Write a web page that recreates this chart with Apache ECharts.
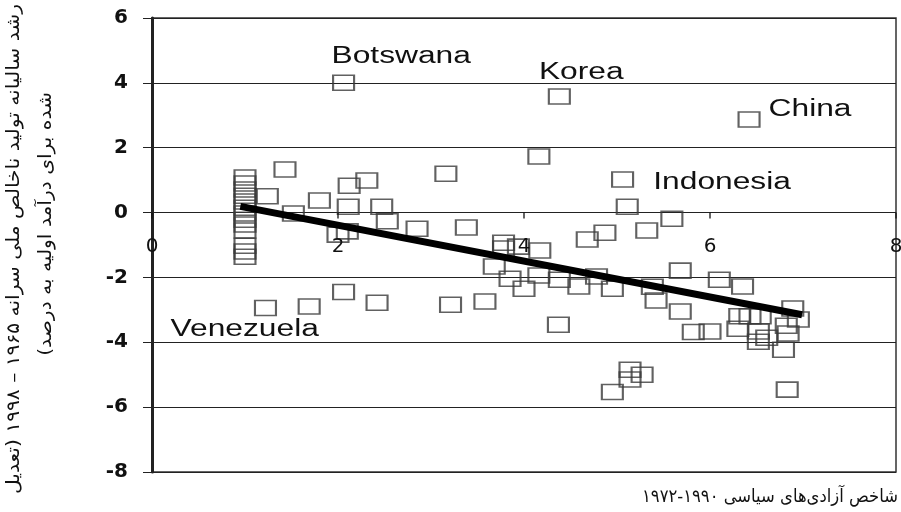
<!DOCTYPE html>
<html><head><meta charset="utf-8">
<script src="https://cdn.jsdelivr.net/npm/echarts@6/dist/echarts.min.js"></script>
<style>html,body{margin:0;padding:0;background:#fff}#c{width:901px;height:512px}</style>
</head><body><div id="c"></div>
<script>
// axis ticks
const xTicks = [0, 2, 4, 6, 8];
const yTicks = [-8, -6, -4, -2, 0, 2, 4, 6];

// countries: political freedom index (x) vs annual GDP per capita growth (y)
const ptX = [1.0,1.0,1.0,1.0,1.0,1.0,1.0,1.0,1.0,1.0,1.0,1.0,1.0,
  1.24,1.43,1.52,1.8,2.12,2.31,2.11,2.47,2.53,2.0,2.1,2.06,1.22,1.69,2.06,2.42,
  2.85,3.38,3.16,4.16,4.38,5.06,5.11,3.78,3.78,3.94,4.17,3.68,3.85,4.0,4.16,4.38,
  4.59,4.78,4.95,4.68,4.87,5.32,5.59,3.21,3.58,4.37,5.38,5.42,5.68,5.68,5.82,6.0,
  6.1,6.35,6.42,6.3,6.32,6.43,6.54,6.52,6.61,6.52,6.82,6.84,6.79,6.89,6.95,6.83,
  4.95,5.14,5.14,5.27];
const ptY = [1.08,0.9,0.71,0.52,0.34,0.15,-0.03,-0.22,-0.37,-0.55,-1.02,-1.2,-1.36,
  0.5,1.33,-0.03,0.37,0.83,0.99,0.18,0.18,-0.27,-0.68,-0.58,4.0,-2.94,-2.9,-2.45,-2.78,
  -0.5,-0.46,1.2,1.73,3.58,1.02,0.18,-0.93,-1.11,-1.05,-1.17,-1.66,-2.04,-2.35,-1.94,-2.07,
  -2.28,-1.97,-2.35,-0.83,-0.62,-0.55,-0.19,-2.84,-2.74,-3.46,-2.29,-2.71,-1.79,-3.05,-3.68,-3.67,
  -2.07,-2.28,2.87,-3.58,-3.2,-3.2,-3.2,-3.67,-3.86,-3.98,-3.49,-3.73,-4.23,-2.96,-3.3,-5.46,
  -5.53,-4.85,-5.15,-5.0];

// fitted regression line end points
const fitX = [0.95, 6.99];
const fitY = [0.19, -3.15];

// annotations
const labelNames = ['Botswana', 'Korea', 'China', 'Indonesia', 'Venezuela'];
const labelX = [1.93, 4.16, 6.63, 5.39, 0.2];
const labelY = [4.8, 4.32, 3.16, 0.93, -3.6];

const yTitle1 = 'رشد سالیانه تولید ناخالص ملی سرانه ۱۹۶۵ – ۱۹۹۸ (تعدیل';
const yTitle2 = 'شده برای درآمد اولیه به درصد)\u200F';
const xTitle = 'شاخص آزادی‌های سیاسی ۱۹۹۰-۱۹۷۲';

// text measuring for title stretch
const mctx = document.createElement('canvas').getContext('2d');
const titleFont = '18px "DejaVu Sans"';
mctx.font = titleFont;
const yScale = 490 / mctx.measureText(yTitle1).width;
const xScale = 256 / mctx.measureText(xTitle).width;

const chart = echarts.init(document.getElementById('c'), null, {renderer: 'canvas'});
chart.setOption({
  animation: false,
  backgroundColor: '#fff',
  grid: {left: 152, right: 5, top: 18, bottom: 40, show: true, borderColor: '#333', borderWidth: 1.5, backgroundColor: '#fff'},
  xAxis: {
    type: 'value', min: xTicks[0], max: xTicks[xTicks.length - 1], interval: xTicks[1] - xTicks[0],
    axisLine: {show: false},
    axisTick: {show: false},
    splitLine: {show: false},
    axisLabel: {show: false}
  },
  yAxis: {
    type: 'value', min: yTicks[0], max: yTicks[yTicks.length - 1], interval: yTicks[1] - yTicks[0],
    axisLine: {show: true, onZero: false, lineStyle: {color: '#222', width: 3}},
    axisTick: {show: true, length: 9, lineStyle: {color: '#222', width: 1}},
    splitLine: {show: true, lineStyle: {color: '#222', width: 1}},
    axisLabel: {margin: 24, fontFamily: 'DejaVu Sans', fontWeight: 'bold', fontSize: 20, color: '#111'}
  },
  graphic: [
    {type: 'text', x: 14, y: 4, rotation: Math.PI / 2, scaleX: yScale, silent: true,
      style: {text: yTitle1, font: titleFont, fill: '#111', align: 'right', verticalAlign: 'middle'}},
    {type: 'text', x: 46, y: 92, rotation: Math.PI / 2, scaleX: yScale, silent: true,
      style: {text: yTitle2, font: titleFont, fill: '#111', align: 'right', verticalAlign: 'middle'}},
    {type: 'text', x: 898, y: 497, scaleX: xScale, silent: true,
      style: {text: xTitle, font: titleFont, fill: '#111', align: 'right', verticalAlign: 'middle'}}
  ],
  series: [
    {
      type: 'scatter', silent: true, z: 2,
      symbol: 'rect', symbolSize: [21, 15],
      itemStyle: {color: 'rgba(0,0,0,0)', borderColor: '#3a3a3a', borderWidth: 1.8},
      data: ptX.map((x, i) => [x, ptY[i]])
    },
    {
      type: 'line', silent: true, z: 4, symbol: 'none',
      lineStyle: {color: '#000', width: 7, cap: 'butt'},
      data: fitX.map((x, i) => [x, fitY[i]])
    },
    {
      // x-axis tick marks and labels sitting on the zero line
      type: 'custom', silent: true, z: 3, clip: false, coordinateSystem: 'cartesian2d',
      data: xTicks.map(v => [v, 0]),
      renderItem: function (params, api) {
        const p = api.coord([api.value(0), api.value(1)]);
        return {
          type: 'group',
          children: [
            {type: 'line', shape: {x1: p[0], y1: p[1], x2: p[0], y2: p[1] + 6}, style: {stroke: '#111', lineWidth: 1.3}},
            {type: 'text', x: p[0], y: p[1] + 34,
              style: {text: String(xTicks[params.dataIndex]), font: '20px "DejaVu Sans"', fill: '#111', align: 'center', verticalAlign: 'middle'}}
          ]
        };
      }
    },
    {
      type: 'custom', silent: true, z: 5, clip: false, coordinateSystem: 'cartesian2d',
      data: labelX.map((x, i) => [x, labelY[i]]),
      renderItem: function (params, api) {
        const p = api.coord([api.value(0), api.value(1)]);
        return {
          type: 'text', x: p[0], y: p[1], scaleX: 1.38,
          style: {text: labelNames[params.dataIndex], font: '23px "Liberation Sans"', fill: '#111', align: 'left', verticalAlign: 'middle'}
        };
      }
    }
  ]
});
</script></body></html>
